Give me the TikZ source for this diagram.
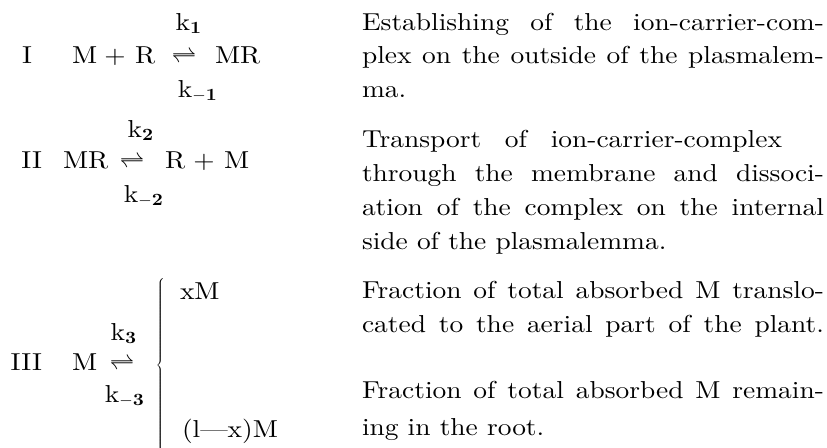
\documentclass[tikz,border=0pt]{standalone}
\usepackage{fontspec}
\setmainfont{lmroman10-regular.otf}[BoldFont=lmroman10-bold.otf, FakeStretch=1.12]
\begin{document}
\begin{tikzpicture}[x=1pt,y=-1pt,
  tx/.style={inner sep=0pt, outer sep=0pt, font=\fontsize{24.5pt}{35pt}\selectfont},
  bw/.style={tx, anchor=base west},
  be/.style={tx, anchor=base east},
  bc/.style={tx, anchor=base}]
\useasboundingbox (0,0) rectangle (827,447);
% ---- reaction I ----
\node[bc] (nI) at (27,63) {I};
\node[bw] (mI) at (72,63) {M};
\node[bc] (pI) at (115,63) {+};
\node[bw] (rI) at (135,63) {R};
\node[bc] (aI) at (184,63) {$\rightleftharpoons$};
\node[bw] (mrI) at (215,63) {MR};
\node[bc] (k1) at (188,30) {k$_{\mathbf{1}}$};
\node[bc] (km1) at (197,97) {k$_{-\mathbf{1}}$};
% ---- reaction II ----
\node[be] (nII) at (42,168) {II};
\node[bw] (mrII) at (63,168) {MR};
\node[bc] (aII) at (132,168) {$\rightleftharpoons$};
\node[bw] (rII) at (165,168) {R};
\node[bc] (pII) at (204,168) {+};
\node[bw] (mII) at (224,168) {M};
\node[bc] (k2) at (140,137) {k$_{\mathbf{2}}$};
\node[bc] (km2) at (143,202) {k$_{-\mathbf{2}}$};
% ---- reaction III ----
\node[be] (nIII) at (42,370) {III};
\node[bw] (mIII) at (72,370) {M};
\node[bc] (aIII) at (122,370) {$\rightleftharpoons$};
\node[bc] (k3) at (123,340) {k$_{\mathbf{3}}$};
\node[bc] (km3) at (124,402) {k$_{-\mathbf{3}}$};
\node[tx, anchor=center] (br) at (161,366) {$\left\{\vrule height 82pt depth 82pt width 0pt\right.$};
\node[bw] (xm) at (180,299) {xM};
\node[bw] (lxm) at (182,437) {(l—x)M};
% ---- explanations ----
\node[bw] (l1) at (362,30) {\hbox to 462pt{Establishing of the ion-carrier-com-}};
\node[bw] (l2) at (362,63) {\hbox to 462pt{plex on the outside of the plasmalem-}};
\node[bw] (l3) at (362,97) {ma.};
\node[bw] (l4) at (362,147) {\hbox to 420pt{Transport of ion-carrier-complex}};
\node[bw] (l5) at (362,181) {\hbox to 462pt{through the membrane and dissoci-}};
\node[bw] (l6) at (362,215) {\hbox to 462pt{ation of the complex on the internal}};
\node[bw] (l7) at (362,249) {side of the plasmalemma.};
\node[bw] (l8) at (362,298) {\hbox to 462pt{Fraction of total absorbed M translo-}};
\node[bw] (l9) at (362,332) {\hbox to 462pt{cated to the aerial part of the plant.}};
\node[bw] (l10) at (362,398) {\hbox to 462pt{Fraction of total absorbed M remain-}};
\node[bw] (l11) at (362,435) {ing in the root.};
\end{tikzpicture}
\end{document}
